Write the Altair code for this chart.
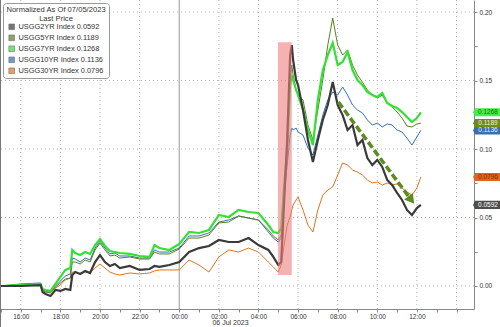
import altair as alt
import pandas as pd

# ---------------- data ----------------
times = [
    "2023-07-05T15:00:00", "2023-07-05T16:00:00", "2023-07-05T17:00:00", "2023-07-05T17:06:00",
    "2023-07-05T17:15:00", "2023-07-05T17:30:00", "2023-07-05T17:45:00", "2023-07-05T18:00:00",
    "2023-07-05T18:15:00", "2023-07-05T18:30:00", "2023-07-05T18:36:00", "2023-07-05T18:45:00",
    "2023-07-05T19:00:00", "2023-07-05T19:15:00", "2023-07-05T19:30:00", "2023-07-05T19:45:00",
    "2023-07-05T20:00:00", "2023-07-05T20:15:00", "2023-07-05T20:30:00", "2023-07-05T20:45:00",
    "2023-07-05T21:00:00", "2023-07-05T21:30:00", "2023-07-05T22:00:00", "2023-07-05T22:30:00",
    "2023-07-05T22:45:00", "2023-07-05T23:00:00", "2023-07-05T23:30:00", "2023-07-06T00:00:00",
    "2023-07-06T00:30:00", "2023-07-06T01:00:00", "2023-07-06T01:30:00", "2023-07-06T02:00:00",
    "2023-07-06T02:30:00", "2023-07-06T03:00:00", "2023-07-06T03:30:00", "2023-07-06T04:00:00",
    "2023-07-06T04:30:00", "2023-07-06T04:45:00", "2023-07-06T05:00:00", "2023-07-06T05:09:00",
    "2023-07-06T05:18:00", "2023-07-06T05:27:00", "2023-07-06T05:36:00", "2023-07-06T05:41:00",
    "2023-07-06T05:45:00", "2023-07-06T05:54:00", "2023-07-06T06:00:00", "2023-07-06T06:15:00",
    "2023-07-06T06:30:00", "2023-07-06T06:45:00", "2023-07-06T07:00:00", "2023-07-06T07:15:00",
    "2023-07-06T07:30:00", "2023-07-06T07:45:00", "2023-07-06T08:00:00", "2023-07-06T08:15:00",
    "2023-07-06T08:30:00", "2023-07-06T08:45:00", "2023-07-06T09:00:00", "2023-07-06T09:15:00",
    "2023-07-06T09:30:00", "2023-07-06T09:45:00", "2023-07-06T10:00:00", "2023-07-06T10:15:00",
    "2023-07-06T10:30:00", "2023-07-06T10:45:00", "2023-07-06T11:00:00", "2023-07-06T11:15:00",
    "2023-07-06T11:30:00", "2023-07-06T11:45:00", "2023-07-06T12:00:00", "2023-07-06T12:12:00",
]

usgg2 = [0.0, 0.0, 0.0007, -0.0044, -0.0058, -0.0073, -0.0029, -0.0036, -0.0022, -0.0029,
         0.0080, 0.0102, 0.0088, 0.0110, 0.0095, 0.0175, 0.0226, 0.0175, 0.0146, 0.0161,
         0.0131, 0.0146, 0.0117, 0.0124, 0.0146, 0.0139, 0.0153, 0.0175, 0.0248, 0.0277,
         0.0292, 0.0336, 0.0321, 0.0321, 0.0350, 0.0299, 0.0263, 0.0212, 0.0153, 0.0175,
         0.0628, 0.1066, 0.1686, 0.1759, 0.1650, 0.1504, 0.1467, 0.1285, 0.1066, 0.0905,
         0.1066, 0.1212, 0.1321, 0.1489, 0.1321, 0.1248, 0.1139, 0.1175, 0.1029, 0.1066,
         0.0934, 0.0883, 0.0920, 0.0869, 0.0774, 0.0737, 0.0679, 0.0628, 0.0555, 0.0518,
         0.0569, 0.0592]
usgg5 = [0.0, 0.0007, 0.0015, -0.0029, -0.0044, -0.0051, -0.0007, 0.0022, 0.0051, 0.0058,
         0.0175, 0.0175, 0.0161, 0.0190, 0.0175, 0.0263, 0.0314, 0.0263, 0.0219, 0.0226,
         0.0204, 0.0212, 0.0197, 0.0197, 0.0248, 0.0234, 0.0234, 0.0270, 0.0350, 0.0350,
         0.0372, 0.0460, 0.0467, 0.0511, 0.0496, 0.0482, 0.0409, 0.0365, 0.0336, 0.0372,
         0.0701, 0.0993, 0.1504, 0.1613, 0.1540, 0.1431, 0.1394, 0.1358, 0.1175, 0.1066,
         0.1285, 0.1504, 0.1759, 0.1956, 0.1759, 0.1686, 0.1723, 0.1613, 0.1540, 0.1489,
         0.1431, 0.1394, 0.1372, 0.1394, 0.1336, 0.1307, 0.1270, 0.1226, 0.1168, 0.1161,
         0.1183, 0.1189]
usgg7 = [0.0, 0.0007, 0.0015, -0.0022, -0.0029, -0.0036, 0.0015, 0.0066, 0.0117, 0.0131,
         0.0263, 0.0241, 0.0226, 0.0248, 0.0234, 0.0299, 0.0343, 0.0292, 0.0255, 0.0248,
         0.0241, 0.0234, 0.0219, 0.0212, 0.0299, 0.0277, 0.0263, 0.0307, 0.0394, 0.0387,
         0.0409, 0.0518, 0.0504, 0.0555, 0.0540, 0.0533, 0.0445, 0.0394, 0.0387, 0.0423,
         0.0737, 0.0993, 0.1467, 0.1540, 0.1504, 0.1431, 0.1394, 0.1285, 0.1139, 0.1029,
         0.1358, 0.1577, 0.1686, 0.1774, 0.1613, 0.1635, 0.1708, 0.1577, 0.1504, 0.1467,
         0.1416, 0.1394, 0.1380, 0.1409, 0.1336, 0.1314, 0.1299, 0.1270, 0.1234, 0.1197,
         0.1226, 0.1268]
usgg10 = [0.0, 0.0015, 0.0022, -0.0022, -0.0036, -0.0044, 0.0, 0.0036, 0.0073, 0.0088,
          0.0204, 0.0197, 0.0175, 0.0204, 0.0190, 0.0277, 0.0328, 0.0277, 0.0234, 0.0241,
          0.0219, 0.0219, 0.0204, 0.0204, 0.0263, 0.0248, 0.0248, 0.0277, 0.0365, 0.0365,
          0.0387, 0.0467, 0.0482, 0.0511, 0.0496, 0.0482, 0.0394, 0.0350, 0.0321, 0.0350,
          0.0664, 0.0883, 0.1102, 0.1153, 0.1139, 0.1153, 0.1124, 0.1102, 0.1007, 0.0956,
          0.1102, 0.1248, 0.1358, 0.1416, 0.1394, 0.1453, 0.1394, 0.1321, 0.1285, 0.1263,
          0.1212, 0.1175, 0.1190, 0.1161, 0.1183, 0.1175, 0.1139, 0.1124, 0.1080, 0.1029,
          0.1088, 0.1136]
usgg30 = [0.0, 0.0007, 0.0015, -0.0029, -0.0036, -0.0044, -0.0015, 0.0007, 0.0044, 0.0058,
          0.0102, 0.0102, 0.0088, 0.0102, 0.0095, 0.0131, 0.0161, 0.0131, 0.0102, 0.0088,
          0.0080, 0.0095, 0.0088, 0.0095, 0.0110, 0.0117, 0.0117, 0.0117, 0.0190, 0.0153,
          0.0102, 0.0212, 0.0263, 0.0248, 0.0277, 0.0248, 0.0175, 0.0139, 0.0102, 0.0153,
          0.0299, 0.0445, 0.0504, 0.0555, 0.0591, 0.0628, 0.0650, 0.0555, 0.0445, 0.0394,
          0.0555, 0.0664, 0.0701, 0.0723, 0.0810, 0.0898, 0.0883, 0.0847, 0.0832, 0.0810,
          0.0774, 0.0752, 0.0759, 0.0737, 0.0752, 0.0737, 0.0745, 0.0715, 0.0686, 0.0664,
          0.0715, 0.0796]

series_names = ["USGG2YR Index", "USGG5YR Index", "USGG7YR Index", "USGG10YR Index", "USGG30YR Index"]
series_values = [usgg2, usgg5, usgg7, usgg10, usgg30]
series_colors = ["#3a3a3a", "#5a7f1c", "#33e033", "#3170b4", "#e2731f"]
series_widths = [2.2, 1.0, 2.2, 1.0, 1.0]
box_colors = ["#4d4d4d", "#6e8a1e", "#44ee44", "#3a6fae", "#e0651c"]
box_text_colors = ["#ffffff", "#f4f4d0", "#1c6a1c", "#e6eef8", "#8a2a00"]
draw_order = [4, 3, 1, 2, 0]

legend_title = ["Normalized As Of 07/05/2023", "Last Price"]
date_label = "06 Jul 2023"

# annotations
shade_start, shade_end = "2023-07-06T04:59:00", "2023-07-06T05:41:00"
shade_low, shade_high = 0.008, 0.178
arrow_times = ["2023-07-06T08:02:00", "2023-07-06T11:43:00"]
arrow_values = [0.1343, 0.0628]

y_ticks = [0.0, 0.025, 0.05, 0.075, 0.10, 0.125, 0.15, 0.175, 0.20]
y_grid = [0.0, 0.05, 0.10, 0.15, 0.20]

# ---------------- build tables ----------------
labels = [f"{n} {v[-1]:.4f}" for n, v in zip(series_names, series_values)]
frames = []
for i, (lab, vals) in enumerate(zip(labels, series_values)):
    frames.append(pd.DataFrame({"time": times, "value": vals, "series": lab}))
long_df = pd.concat(frames, ignore_index=True)

last_df = pd.DataFrame({
    "series": labels,
    "value": [v[-1] for v in series_values],
    "txt": [f"{v[-1]:.4f}" for v in series_values],
    "box": box_colors,
    "tcol": box_text_colors,
})
last_df = last_df.iloc[[4, 0, 3, 1, 2]]

hour_ticks = [alt.DateTime(year=2023, month=7, date=5, hours=h) for h in range(15, 24)] + \
             [alt.DateTime(year=2023, month=7, date=6, hours=h) for h in range(0, 15)]
vgrid_times = [f"2023-07-05T{h:02d}:00:00" for h in (16, 18, 20, 22)] + \
              [f"2023-07-06T{h:02d}:00:00" for h in (2, 4, 6, 8, 10, 12, 14)]
vgrid_df = pd.DataFrame({"time": vgrid_times})
hgrid_df = pd.DataFrame({"value": y_grid})
midnight_df = pd.DataFrame({"time": ["2023-07-06T00:00:00"]})

x_scale = alt.Scale(domain=[alt.DateTime(year=2023, month=7, date=5, hours=14, minutes=57),
                            alt.DateTime(year=2023, month=7, date=6, hours=14, minutes=53)])
y_scale = alt.Scale(domain=[-0.0168, 0.2088], nice=False, zero=False)

FONT = "Liberation Sans"
x_axis = alt.Axis(
    values=hour_ticks,
    labelExpr="(hours(datum.value) % 2 == 0 && hours(datum.value) != 14) ? timeFormat(datum.value, '%H:%M') : ''",
    title=date_label, titleX=230, titleY=13, titleBaseline="middle", titleFontSize=7,
    titleFontWeight="normal", titleColor="#333", titleFont=FONT,
    grid=False, tickSize=3, tickColor="#888", domainColor="#888",
    labelFontSize=6.5, labelColor="#333", labelFont=FONT, labelPadding=1,
    labelOverlap=False, labelFlush=False,
)
y_axis = alt.Axis(
    orient="right", values=y_ticks,
    labelExpr="round(datum.value * 40) % 2 == 0 ? format(datum.value, '.2f') : ''",
    title=None, grid=False, tickSize=3, tickColor="#888", domainColor="#888",
    labelFontSize=6.5, labelColor="#333", labelFont=FONT, labelPadding=2,
)

X = alt.X("time:T", scale=x_scale, axis=x_axis)
Y = alt.Y("value:Q", scale=y_scale, axis=y_axis)

# ---------------- layers ----------------
vgrid = alt.Chart(vgrid_df).mark_rule(color="#b5b5b5", strokeDash=[1, 3], strokeWidth=1).encode(x=X)
hgrid = alt.Chart(hgrid_df).mark_rule(color="#b5b5b5", strokeDash=[1, 3], strokeWidth=1).encode(y=Y)
midnight = alt.Chart(midnight_df).mark_rule(color="#9a9a9a", strokeWidth=1).encode(x=X)
frame = alt.Chart(midnight_df).mark_rule(color="#777", strokeWidth=1).encode(
    x=alt.value(0.5), y=alt.value(0), y2=alt.value(327))

legend_layer = alt.Chart(long_df).transform_filter("false").mark_square().encode(
    x=X, y=Y,
    fill=alt.Fill("series:N", scale=alt.Scale(domain=labels, range=series_colors),
                  legend=alt.Legend(
                      orient="none", legendX=3, legendY=3, title=legend_title,
                      titleFontSize=7.6, titleFontWeight="normal", titleColor="#333", titleFont=FONT,
                      titleAnchor="middle", titleLineHeight=8.5, titlePadding=1,
                      labelFontSize=7.4, labelColor="#333", labelFont=FONT, labelOffset=3,
                      symbolType="square", symbolSize=32, symbolStrokeColor="#333",
                      symbolStrokeWidth=0.6, rowPadding=2, padding=3,
                      strokeColor="#999", fillColor="white", cornerRadius=3)),
)

line_layers = []
for i in draw_order:
    sub = long_df[long_df["series"] == labels[i]]
    line_layers.append(
        alt.Chart(sub).mark_line(strokeWidth=series_widths[i], color=series_colors[i]).encode(
            x=X, y=Y, detail="series:N")
    )

shade_df = pd.DataFrame({"time": [shade_start], "time2": [shade_end],
                         "value": [shade_low], "value2": [shade_high]})
shade = alt.Chart(shade_df).mark_rect(color="#ee7f7f", opacity=0.6).encode(
    x=X, x2="time2:T", y=Y, y2="value2:Q")

arrow_df = pd.DataFrame({"time": arrow_times, "value": arrow_values})
arrow_line = alt.Chart(arrow_df).mark_line(color="#5b8c1e", strokeWidth=3.5, strokeDash=[7, 3]).encode(
    x=X, y=Y)
arrow_head = alt.Chart(arrow_df.iloc[[1]]).mark_point(
    shape="triangle-right", filled=True, size=120, angle=53, color="#5b8c1e", opacity=1).encode(x=X, y=Y)

box_shape = "M-1,-0.31 L1,-0.31 L1,0.31 L-1,0.31 L-1.15,0 Z"
boxes = alt.Chart(last_df).mark_point(shape=box_shape, filled=True, size=676, opacity=1).encode(
    x=alt.value(488), y=Y, fill=alt.Fill("box:N", scale=None))
box_text = alt.Chart(last_df).mark_text(fontSize=6.5, font=FONT, align="center", baseline="middle").encode(
    x=alt.value(488), y=Y, text="txt:N", color=alt.Color("tcol:N", scale=None))

chart = alt.layer(
    vgrid, hgrid, midnight, frame, legend_layer, *line_layers, shade, arrow_line, arrow_head, boxes, box_text
).properties(
    width=474, height=309,
    padding={"left": 0, "top": 0, "right": 26, "bottom": 18},
    autosize=alt.AutoSizeParams(type="none"),
    background="white",
).configure_view(stroke=None)

chart.save("out.html", embed_options={"renderer": "svg", "actions": False})
